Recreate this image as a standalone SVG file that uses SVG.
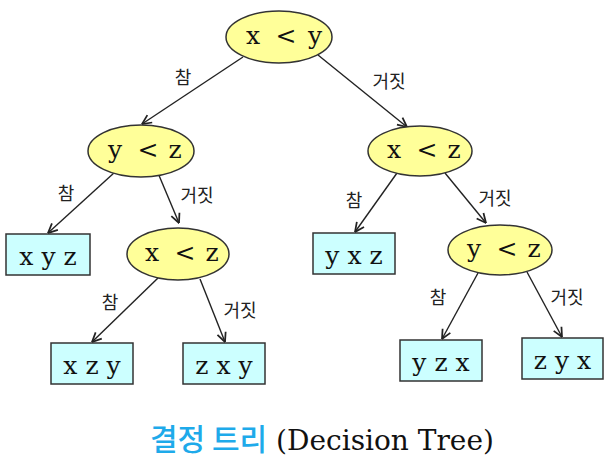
<svg xmlns="http://www.w3.org/2000/svg" width="613" height="470" viewBox="0 0 613 470">
<defs>
<style>
.el{fill:#ffff99;stroke:#333;stroke-width:1.5}
.bx{fill:#ccffff;stroke:#333;stroke-width:1.5}
.t{font-family:"DejaVu Serif","Liberation Serif",serif;font-size:25px;fill:#111;text-anchor:middle}
.lb{font-family:"Noto Sans CJK KR",sans-serif;font-size:18px;fill:#222;text-anchor:middle}
.cn{stroke:#222;stroke-width:1.4;fill:none;marker-end:url(#ah)}
</style>
<marker id="ah" viewBox="0 0 10 10" refX="9.5" refY="5" markerWidth="11" markerHeight="11" markerUnits="userSpaceOnUse" orient="auto">
<path d="M1,1 L9.5,5 L1,9" fill="none" stroke="#222" stroke-width="1.6"/>
</marker>
</defs>
<rect width="613" height="470" fill="#fff"/>
<g id="connectors">
<line class="cn" x1="243" y1="57" x2="142" y2="124"/>
<line class="cn" x1="318" y1="55" x2="407" y2="127"/>
<line class="cn" x1="115" y1="172" x2="48" y2="233"/>
<line class="cn" x1="158" y1="173" x2="179" y2="223"/>
<line class="cn" x1="397" y1="173" x2="355" y2="232"/>
<line class="cn" x1="445" y1="173" x2="486" y2="223"/>
<line class="cn" x1="158" y1="278" x2="92" y2="342"/>
<line class="cn" x1="200" y1="279" x2="225" y2="342"/>
<line class="cn" x1="478" y1="273" x2="442" y2="339"/>
<line class="cn" x1="527" y1="272" x2="562" y2="337"/>
<text class="lb" x="183" y="84">참</text>
<text class="lb" x="389" y="88">거짓</text>
<text class="lb" x="66" y="200">참</text>
<text class="lb" x="197" y="202">거짓</text>
<text class="lb" x="354" y="207">참</text>
<text class="lb" x="495" y="205">거짓</text>
<text class="lb" x="110" y="309">참</text>
<text class="lb" x="240" y="317">거짓</text>
<text class="lb" x="438" y="304">참</text>
<text class="lb" x="567" y="304">거짓</text>
</g>
<g id="n-root">
<ellipse class="el" cx="279" cy="37" rx="53" ry="26"/>
<text class="t" x="253 286 315" y="44">x&lt;y</text>
</g>
<g id="n-yz1">
<ellipse class="el" cx="141" cy="151" rx="53" ry="26"/>
<text class="t" x="115 148 175" y="158">y&lt;z</text>
</g>
<g id="n-xz1">
<ellipse class="el" cx="420" cy="151" rx="52" ry="25"/>
<text class="t" x="394 427 454" y="158">x&lt;z</text>
</g>
<g id="n-xyz">
<rect class="bx" x="6" y="234" width="84" height="41"/>
<text class="t" x="48" y="265">x y z</text>
</g>
<g id="n-xz2">
<ellipse class="el" cx="178" cy="254" rx="51" ry="26"/>
<text class="t" x="152 185 212" y="261">x&lt;z</text>
</g>
<g id="n-yxz">
<rect class="bx" x="313" y="233" width="82" height="41"/>
<text class="t" x="354" y="264">y x z</text>
</g>
<g id="n-yz2">
<ellipse class="el" cx="500" cy="250" rx="52" ry="25"/>
<text class="t" x="474 507 534" y="257">y&lt;z</text>
</g>
<g id="n-xzy">
<rect class="bx" x="51" y="343" width="82" height="41"/>
<text class="t" x="92" y="374">x z y</text>
</g>
<g id="n-zxy">
<rect class="bx" x="183" y="343" width="82" height="41"/>
<text class="t" x="224" y="374">z x y</text>
</g>
<g id="n-yzx">
<rect class="bx" x="400" y="340" width="82" height="41"/>
<text class="t" x="441" y="371">y z x</text>
</g>
<g id="n-zyx">
<rect class="bx" x="522" y="338" width="81" height="41"/>
<text class="t" x="562.5" y="369">z y x</text>
</g>
<text x="150" y="450"><tspan font-family="Noto Sans CJK KR, sans-serif" font-size="30" font-weight="500" fill="#1eaaea">결정 트리</tspan><tspan font-family="DejaVu Serif, Liberation Serif, serif" font-size="28" fill="#111"> (Decision Tree)</tspan></text>
</svg>
